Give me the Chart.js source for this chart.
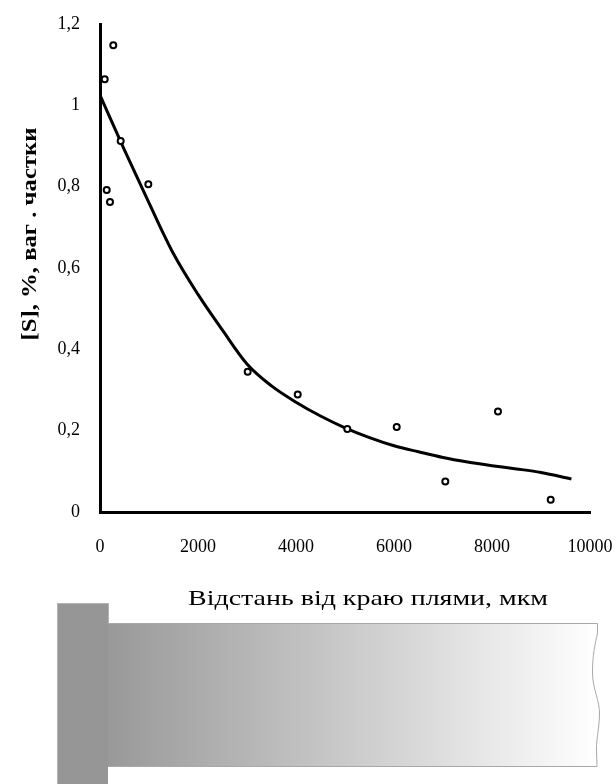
<!DOCTYPE html>
<html>
<head>
<meta charset="utf-8">
<script src="https://cdn.jsdelivr.net/npm/chart.js@4/dist/chart.umd.min.js"></script>
<style>
  html, body { margin: 0; padding: 0; background: #fff; }
  #wrap { width: 616px; height: 784px; position: relative; }
</style>
</head>
<body>
<div id="wrap"><canvas id="c" width="616" height="784"></canvas></div>
<script>
// Measured points: distance from spot edge (µm) and sulphur content (wt %)
const pointX = [96, 271, 137, 204, 422, 986, 3014, 4035, 5047, 6055, 7047, 8122, 9198];
const pointY = [1.064, 1.148, 0.792, 0.762, 0.912, 0.806, 0.345, 0.289, 0.204, 0.209, 0.075, 0.247, 0.030];

// Trend line
const trendX = [0, 500, 1000, 1500, 2000, 2500, 3000, 3500, 4000, 4500, 5000, 5500, 6000, 6500, 7000, 7500, 8000, 8500, 9000, 9620];
const trendY = [1.025, 0.89, 0.76, 0.635, 0.535, 0.447, 0.364, 0.31, 0.27, 0.236, 0.207, 0.183, 0.163, 0.148, 0.134, 0.123, 0.114, 0.106, 0.097, 0.081];

const xTickLabels = ['0', '2000', '4000', '6000', '8000', '10000'];
const yTickLabels = ['0', '0,2', '0,4', '0,6', '0,8', '1', '1,2'];

const yTitle = '[S], %, ваг . частки';
const xTitle = 'Відстань від краю плями, мкм';

const points = pointX.map((x, i) => ({x: x, y: pointY[i]}));
const trend = trendX.map((x, i) => ({x: x, y: trendY[i]}));

function drawStretched(ctx, text, cx, cy, font, targetW, rot) {
  ctx.save();
  ctx.font = font;
  const w = ctx.measureText(text).width;
  ctx.translate(cx, cy);
  if (rot) ctx.rotate(rot);
  ctx.scale(targetW / w, 1);
  ctx.textAlign = 'center';
  ctx.textBaseline = 'middle';
  ctx.fillStyle = '#000';
  ctx.fillText(text, 0, 0);
  ctx.restore();
}

const decor = {
  id: 'decor',
  beforeDraw(chart) {
    const ctx = chart.ctx;
    ctx.save();
    ctx.fillStyle = '#fff';
    ctx.fillRect(0, 0, chart.width, chart.height);
    // tab
    ctx.fillStyle = '#969696';
    ctx.fillRect(57, 603, 51, 181);
    ctx.strokeStyle = '#b4b4b4';
    ctx.lineWidth = 1;
    ctx.beginPath();
    ctx.moveTo(57.5, 784); ctx.lineTo(57.5, 603.5); ctx.lineTo(108.5, 603.5); ctx.lineTo(108.5, 623.5);
    ctx.stroke();
    // bar with gradient
    const g = ctx.createLinearGradient(108, 0, 597, 0);
    g.addColorStop(0, '#999999');
    g.addColorStop(0.5, '#cbcbcb');
    g.addColorStop(1, '#ffffff');
    const edge = () => {
      ctx.beginPath();
      ctx.moveTo(108, 623.5);
      ctx.lineTo(597.5, 623.5);
      ctx.lineTo(597.5, 633);
      ctx.bezierCurveTo(595, 645, 592.5, 655, 592.5, 672);
      ctx.bezierCurveTo(592.5, 690, 600, 700, 599.5, 715);
      ctx.bezierCurveTo(599, 730, 596.5, 738, 596.5, 748);
      ctx.lineTo(597, 766.5);
      ctx.lineTo(108, 766.5);
    };
    edge();
    ctx.closePath();
    ctx.fillStyle = g;
    ctx.fill();
    ctx.strokeStyle = '#a8a8a8';
    edge();
    ctx.stroke();
    ctx.restore();
    // axis titles
    drawStretched(ctx, xTitle, 368, 599, '21px "Liberation Serif"', 360, 0);
    drawStretched(ctx, yTitle, 31, 234, 'bold 21px "Liberation Serif"', 213, -Math.PI / 2);
  }
};

new Chart(document.getElementById('c'), {
  type: 'scatter',
  data: {
    datasets: [
      {
        data: trend,
        showLine: true,
        borderColor: '#000',
        borderWidth: 3,
        pointRadius: 0,
        cubicInterpolationMode: 'monotone',
        fill: false,
        order: 2
      },
      {
        data: points,
        showLine: false,
        pointStyle: 'circle',
        pointRadius: 3,
        pointBorderWidth: 2,
        pointBorderColor: '#000',
        pointBackgroundColor: '#fff',
        order: 1
      }
    ]
  },
  plugins: [decor],
  options: {
    responsive: false,
    animation: false,
    events: [],
    layout: { padding: { left: 0, top: 24, right: 26, bottom: 0 } },
    plugins: { legend: { display: false }, tooltip: { enabled: false } },
    scales: {
      x: {
        type: 'linear',
        min: 0, max: 10000,
        afterFit(s) { s.height = 272; s.paddingLeft = 0; s.paddingRight = 0; },
        afterBuildTicks(s) { s.ticks = xTickLabels.map((t, i) => ({value: i * 2000})); },
        grid: { display: false, drawTicks: false },
        border: { display: true, color: '#000', width: 3 },
        ticks: {
          padding: 24,
          color: '#000',
          font: { family: '"Liberation Serif"', size: 18 },
          maxRotation: 0,
          autoSkip: false,
          callback: (v, i) => xTickLabels[i]
        }
      },
      y: {
        type: 'linear',
        min: 0, max: 1.2,
        afterFit(s) { s.width = 100; s.paddingTop = 0; s.paddingBottom = 0; },
        afterBuildTicks(s) { s.ticks = yTickLabels.map((t, i) => ({value: i * 0.2})); },
        grid: { display: false, drawTicks: false },
        border: { display: true, color: '#000', width: 3 },
        ticks: {
          padding: 20,
          color: '#000',
          font: { family: '"Liberation Serif"', size: 18 },
          autoSkip: false,
          callback: (v, i) => yTickLabels[i]
        }
      }
    }
  }
});
</script>
</body>
</html>
